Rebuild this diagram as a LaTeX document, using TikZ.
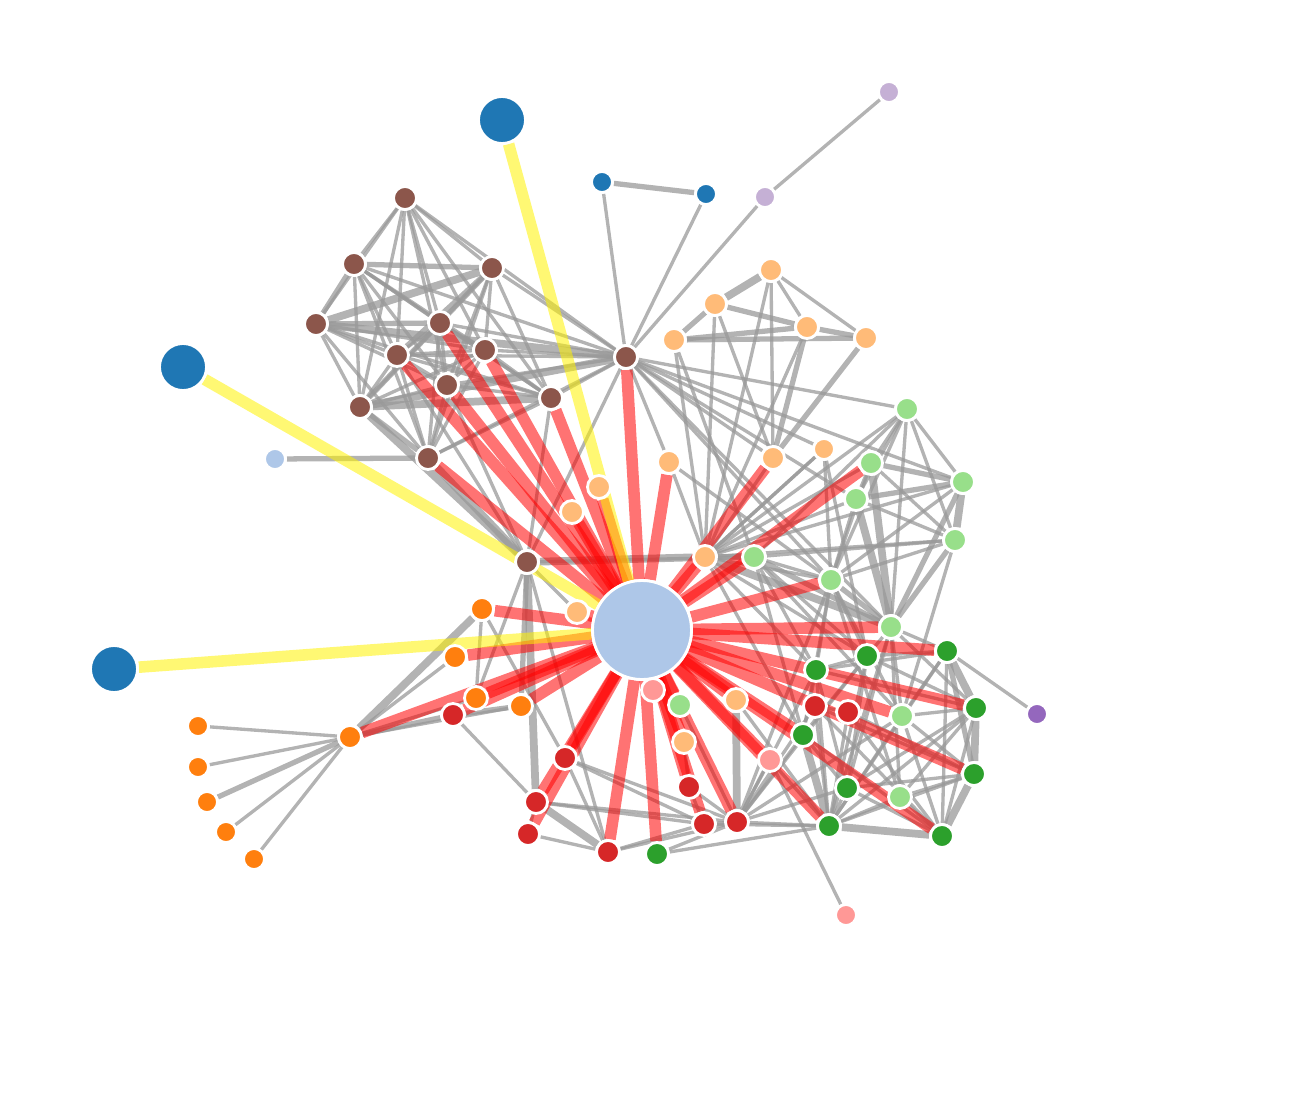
\documentclass[tikz,border=0pt]{standalone}
\usetikzlibrary{arrows}
\definecolor{cbrown}{HTML}{8C564B}
\definecolor{clorange}{HTML}{FFBB78}
\definecolor{corange}{HTML}{FF7F0E}
\definecolor{clgreen}{HTML}{98DF8A}
\definecolor{cgreen}{HTML}{2CA02C}
\definecolor{cred}{HTML}{D62728}
\definecolor{cblue}{HTML}{1F77B4}
\definecolor{clblue}{HTML}{AEC7E8}
\definecolor{clpurple}{HTML}{C5B0D5}
\definecolor{cpurple}{HTML}{9467BD}
\definecolor{cpink}{HTML}{FF9896}
\definecolor{cgrey}{HTML}{999999}
\pgfdeclarelayer{edges}
\pgfsetlayers{edges,main}
\tikzset{
  dot/.style={
    circle,
    inner sep=0pt,
    minimum size=0.46cm,
    draw=white,
    line width=1.6pt
    },
  leaf/.style={
    dot,
    minimum size=0.42cm
    },
  bigdot/.style={
    dot,
    minimum size=0.94cm
    },
  hubdot/.style={
    dot,
    minimum size=1.98cm,
    fill=clblue
    },
  lnk/.style={draw=cgrey, line width=1.9pt, opacity=0.75},
  lnkm/.style={draw=cgrey, line width=3pt, opacity=0.75},
  lnkt/.style={draw=cgrey, line width=4.4pt, opacity=0.75},
  hot/.style={draw=red, line width=6.6pt, opacity=0.55},
  glow/.style={draw=yellow, line width=6.6pt, opacity=0.55},
}

\begin{document}
\begin{tikzpicture}[x=0.02cm, y=-0.02cm]
\useasboundingbox (0,0) rectangle (1306,1096);

% centre and the far blue ones
\node (hub) [hubdot] at (642,630) {};
\node (bA) [bigdot,fill=cblue] at (502,120) {};
\node (bB) [bigdot,fill=cblue] at (183,367) {};
\node (bC) [bigdot,fill=cblue] at (114,669) {};

% small loose ones
\node (sb1) [leaf,fill=cblue] at (602,182) {};
\node (sb2) [leaf,fill=cblue] at (706,194) {};
\node (lp1) [leaf,fill=clpurple] at (889,92) {};
\node (lp2) [leaf,fill=clpurple] at (765,197) {};
\node (pu) [leaf,fill=cpurple] at (1037,714) {};
\node (lb) [leaf,fill=clblue] at (275,459) {};
\node (pk1) [leaf,fill=cpink] at (846,915) {};
\node (pk2) [dot,fill=cpink] at (653,690) {};
\node (pk3) [dot,fill=cpink] at (770,760) {};

% brown group
\node (br1) [dot,fill=cbrown] at (405,198) {};
\node (br2) [dot,fill=cbrown] at (354,264) {};
\node (br3) [dot,fill=cbrown] at (492,268) {};
\node (br4) [dot,fill=cbrown] at (316,324) {};
\node (br5) [dot,fill=cbrown] at (440,323) {};
\node (br6) [dot,fill=cbrown] at (397,355) {};
\node (br7) [dot,fill=cbrown] at (485,350) {};
\node (br8) [dot,fill=cbrown] at (447,385) {};
\node (br9) [dot,fill=cbrown] at (360,407) {};
\node (br10) [dot,fill=cbrown] at (551,398) {};
\node (br11) [dot,fill=cbrown] at (428,458) {};
\node (br12) [dot,fill=cbrown] at (527,562) {};
\node (br13) [dot,fill=cbrown] at (626,357) {};

% light orange group
\node (lo1) [dot,fill=clorange] at (771,270) {};
\node (lo2) [dot,fill=clorange] at (715,304) {};
\node (lo3) [dot,fill=clorange] at (807,327) {};
\node (lo4) [dot,fill=clorange] at (674,340) {};
\node (lo5) [dot,fill=clorange] at (866,338) {};
\node (lo6) [dot,fill=clorange] at (669,462) {};
\node (lo7) [dot,fill=clorange] at (773,458) {};
\node (lo8) [leaf,fill=clorange] at (824,449) {};
\node (lo9) [dot,fill=clorange] at (599,487) {};
\node (lo10) [dot,fill=clorange] at (572,512) {};
\node (lo11) [dot,fill=clorange] at (705,557) {};
\node (lo12) [dot,fill=clorange] at (577,612) {};
\node (lo13) [dot,fill=clorange] at (736,700) {};
\node (lo14) [dot,fill=clorange] at (684,742) {};

% light green group
\node (lg1) [dot,fill=clgreen] at (907,409) {};
\node (lg2) [dot,fill=clgreen] at (871,463) {};
\node (lg3) [dot,fill=clgreen] at (963,482) {};
\node (lg4) [dot,fill=clgreen] at (856,499) {};
\node (lg5) [dot,fill=clgreen] at (955,540) {};
\node (lg6) [dot,fill=clgreen] at (754,557) {};
\node (lg7) [dot,fill=clgreen] at (831,580) {};
\node (lg8) [dot,fill=clgreen] at (891,627) {};
\node (lg9) [dot,fill=clgreen] at (680,705) {};
\node (lg10) [dot,fill=clgreen] at (902,716) {};
\node (lg11) [dot,fill=clgreen] at (900,797) {};

% orange group
\node (or1) [dot,fill=corange] at (482,609) {};
\node (or2) [dot,fill=corange] at (455,657) {};
\node (or3) [dot,fill=corange] at (476,698) {};
\node (or4) [dot,fill=corange] at (521,706) {};
\node (or5) [dot,fill=corange] at (350,737) {};
\node (or6) [leaf,fill=corange] at (198,726) {};
\node (or7) [leaf,fill=corange] at (198,767) {};
\node (or8) [leaf,fill=corange] at (207,802) {};
\node (or9) [leaf,fill=corange] at (226,832) {};
\node (or10) [leaf,fill=corange] at (254,859) {};

% red group
\node (rd1) [dot,fill=cred] at (453,715) {};
\node (rd2) [dot,fill=cred] at (565,758) {};
\node (rd3) [dot,fill=cred] at (536,802) {};
\node (rd4) [dot,fill=cred] at (528,834) {};
\node (rd5) [dot,fill=cred] at (608,852) {};
\node (rd6) [dot,fill=cred] at (689,787) {};
\node (rd7) [dot,fill=cred] at (704,824) {};
\node (rd8) [dot,fill=cred] at (737,822) {};
\node (rd9) [dot,fill=cred] at (815,706) {};
\node (rd10) [dot,fill=cred] at (848,712) {};

% green group
\node (gr1) [dot,fill=cgreen] at (867,656) {};
\node (gr2) [dot,fill=cgreen] at (947,651) {};
\node (gr3) [dot,fill=cgreen] at (816,670) {};
\node (gr4) [dot,fill=cgreen] at (976,708) {};
\node (gr5) [dot,fill=cgreen] at (803,735) {};
\node (gr6) [dot,fill=cgreen] at (974,774) {};
\node (gr7) [dot,fill=cgreen] at (847,788) {};
\node (gr8) [dot,fill=cgreen] at (829,826) {};
\node (gr9) [dot,fill=cgreen] at (942,836) {};
\node (gr10) [dot,fill=cgreen] at (657,854) {};

\begin{pgfonlayer}{edges}
% thin grey links
\foreach \a/\b in {sb1/br13, sb2/br13, lp2/br13, lp1/lp2, pk1/pk3,
  or6/or5, or7/or5, or9/or5, or10/or5, or5/or2, or5/or3, or5/or4, rd1/rd3,
  br1/br2, br1/br3, br1/br4, br1/br5, br1/br6, br1/br7, br1/br8, br1/br9, br1/br10, br1/br13,
  br2/br5, br2/br6, br2/br7, br2/br8, br2/br9, br2/br10, br2/br11, br2/br13,
  br3/br5, br3/br7, br3/br8, br3/br10, br3/br11, br3/br13,
  br4/br6, br4/br7, br4/br8, br4/br9, br4/br10, br4/br11,
  br5/br6, br5/br7, br5/br8, br5/br9, br5/br10, br5/br13, br5/br11,
  br6/br7, br6/br8, br6/br9, br6/br10, br6/br13, br6/br11,
  br7/br8, br7/br9, br7/br10, br7/br13, br7/br11,
  br8/br9, br8/br10, br8/br13, br8/br11, br10/br13, br10/br11, br11/br13,
  br12/br6, br12/br8, br12/br10, br12/br13, br12/rd5, br12/or3, br12/lg6,
  br13/lg1, br13/lo7, br13/lg7, br13/lg8, br13/lg3, br13/lo6, br13/lg4, br13/lo8,
  lo1/lo3, lo1/lo5, lo1/lo7, lo1/lo11, lo2/lo11, lo2/lo7, lo3/lo11, lo4/lo11, lo4/lg6,
  lo6/lo11, lo6/lg7, lo8/lg7, lo8/lo11, lo8/gr1,
  lg1/lg2, lg1/lg3, lg1/lg4, lg1/lg5, lg1/lg7, lg1/lg8, lg1/lg6, lg1/lo11,
  lg2/lg4, lg2/lg5, lg2/lg7, lg3/lg7, lg4/lg5, lg4/lg7, lg5/lg7, lg5/lg10, lg5/lg6,
  lg6/lg7, lg7/gr1, lg7/gr3, lg7/gr5, lg7/lg10, lg7/lg11,
  lg8/gr1, lg8/gr2, lg8/gr4, lg8/gr7, lg8/gr8, lg8/lg10, lg8/lg11,
  lg6/gr1, lg6/gr3, lg6/lg10, lg6/gr5,
  lo11/lg7, lo11/gr1, lo11/gr3, lo11/lg2, lo11/lg4, lo11/lg5, lo11/lg3, lo11/gr5,
  lo11/lo7, lo11/lo8,
  gr1/gr2, gr1/gr3, gr1/gr4, gr1/gr5, gr1/gr7, gr1/gr8, gr2/gr3, gr2/gr9, gr2/gr8,
  gr2/pu, gr3/gr5, gr3/gr7, gr3/gr8, gr3/gr4, gr4/gr9, gr4/gr7, gr4/gr8,
  gr5/gr7, gr5/gr9, gr6/gr7, gr6/gr8, gr7/gr8, gr7/gr9,
  lg10/gr2, lg10/gr4, lg10/gr6, lg10/gr8, lg10/gr9,
  lg11/gr6, lg11/gr8, lg11/gr9, lg11/gr4,
  rd9/gr8, rd9/gr9, rd9/gr6, rd10/gr8, rd10/gr6, rd10/gr9, rd9/rd10,
  rd8/gr8, rd7/gr8, rd7/rd8, rd6/rd8, rd6/rd7, rd3/rd7, rd3/rd8, rd3/rd4,
  rd4/rd5, rd5/rd8, rd5/rd7, gr10/gr8, gr10/rd8, rd2/rd8, rd2/rd7, rd2/rd5,
  pk3/rd8, pk3/gr8, lo13/gr8, lg9/rd8, lo14/rd6, rd8/gr5, rd8/gr3, rd8/lg7,
  rd8/gr1, rd8/rd9, rd8/lg10, rd8/gr7, lo12/br12, or1/or3, or1/rd2}
  \draw[lnk] (\a) -- (\b);
% heavier grey links
\foreach \a/\b in {sb1/sb2, lb/br11, or8/or5, or5/rd1, rd1/or4,
  br2/br4, br3/br6, br3/br9, br2/br3, br4/br5, br9/br11,
  lo2/lo4, lo2/lo3, lo4/lo3, lo4/lo5, lo3/lo5, lo3/lo7, lo5/lo7,
  lg2/lg3, lg3/lg4, lg3/lg8, lg5/lg8, lg6/lg8, lg7/lg8, lo11/lg6,
  gr2/gr6, br12/or4}
  \draw[lnkm] (\a) -- (\b);
\foreach \a/\b in {br3/br4, br4/br13, br9/br10, br9/br13, lo1/lo2,
  br12/br11, br12/br9, br12/rd3, br12/lo11, or5/or1,
  lg3/lg5, lg4/lg8, lg2/lg8, lo11/lg8,
  gr2/gr4, gr4/gr6, gr6/gr9, gr5/gr8, gr8/gr9, rd3/rd5, lo13/rd8}
  \draw[lnkt] (\a) -- (\b);
% links of the centre
\foreach \b in {br5, br6, br7, br8, br10, br11, br13, lo9, lo10, lo6, lo7,
  lg2, lo11, lg6, lg7, lg8, gr2, gr4, gr6, gr9, gr8, lg10, gr5,
  lo13, rd8, rd7, rd6, lo14, pk2, rd5, gr10, rd2, rd3, rd4,
  or1, or2, or3, or4, or5, rd1, lo12, lg9, pk3}
  \draw[hot] (hub) -- (\b);
\foreach \b in {bA, bB, bC}
  \draw[glow] (hub) -- (\b);
\end{pgfonlayer}
\end{tikzpicture}
\end{document}
